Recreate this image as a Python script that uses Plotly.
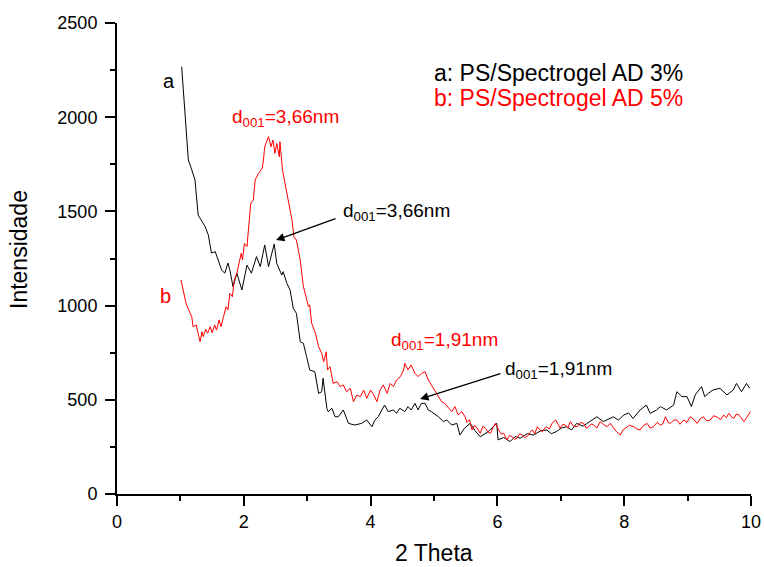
import plotly.graph_objects as go

# ---- data ----
theta_a = [1.02, 1.07, 1.125, 1.18, 1.23, 1.28, 1.33, 1.39, 1.44, 1.49, 1.55, 1.60, 1.65, 1.70, 1.75, 1.78,
           1.83, 1.89, 1.97, 2.05, 2.12, 2.20, 2.26, 2.33, 2.39, 2.48, 2.52, 2.60, 2.62, 2.68, 2.73, 2.78,
           2.83, 2.89, 2.94, 2.99, 3.04, 3.12, 3.18, 3.23, 3.25, 3.31, 3.33, 3.39, 3.44, 3.49, 3.57, 3.65,
           3.75, 3.86, 3.94, 4.02, 4.07, 4.12, 4.22, 4.28, 4.36, 4.41, 4.46, 4.54, 4.59, 4.64, 4.70, 4.75,
           4.80, 4.86, 4.91, 4.96, 5.07, 5.15, 5.20, 5.28, 5.36, 5.41, 5.48, 5.57, 5.65, 5.73, 5.85, 5.99,
           6.01, 6.10, 6.20, 6.28, 6.36, 6.47, 6.57, 6.68, 6.78, 6.85, 6.93, 7.01, 7.09, 7.17, 7.25, 7.35,
           7.46, 7.57, 7.67, 7.75, 7.83, 7.91, 7.99, 8.07, 8.14, 8.25, 8.35, 8.41, 8.51, 8.57, 8.67, 8.78,
           8.83, 8.91, 8.99, 9.06, 9.12, 9.22, 9.27, 9.33, 9.40, 9.51, 9.62, 9.72, 9.77, 9.85, 9.93, 9.98]
int_a = [2268, 2050, 1773, 1720, 1667, 1481, 1450, 1419, 1375, 1279, 1286, 1242, 1189, 1172, 1226, 1189,
         1100, 1172, 1083, 1215, 1172, 1260, 1207, 1322, 1207, 1327, 1224, 1162, 1180, 1118, 1083, 986,
         959, 808, 800, 729, 658, 649, 534, 543, 614, 455, 437, 455, 410, 410, 446, 375,
         366, 375, 393, 357, 393, 410, 472, 437, 446, 428, 455, 437, 464, 446, 481, 446,
         481, 481, 446, 437, 410, 384, 393, 366, 375, 313, 349, 375, 335, 304, 330, 375,
         287, 300, 278, 305, 296, 320, 313, 335, 340, 320, 331, 350, 357, 340, 375, 360,
         384, 410, 384, 395, 410, 392, 419, 430, 401, 446, 472, 428, 446, 464, 446, 472,
         543, 517, 517, 464, 526, 570, 517, 535, 552, 561, 526, 552, 587, 543, 587, 561]

theta_b = [1.01, 1.05, 1.09, 1.13, 1.18, 1.20, 1.25, 1.28, 1.31, 1.34, 1.36, 1.40, 1.43, 1.47, 1.50, 1.54,
           1.57, 1.61, 1.64, 1.68, 1.72, 1.75, 1.78, 1.82, 1.85, 1.89, 1.93, 1.96, 1.98, 2.01, 2.05, 2.08,
           2.11, 2.15, 2.18, 2.23, 2.29, 2.31, 2.33, 2.39, 2.43, 2.46, 2.49, 2.52, 2.56, 2.57, 2.61, 2.65,
           2.70, 2.76, 2.79, 2.83, 2.89, 2.94, 2.98, 3.02, 3.04, 3.07, 3.13, 3.18, 3.23, 3.26, 3.30, 3.32,
           3.36, 3.41, 3.47, 3.52, 3.57, 3.62, 3.68, 3.73, 3.78, 3.84, 3.89, 3.94, 4.00, 4.05, 4.10, 4.15,
           4.20, 4.26, 4.31, 4.36, 4.41, 4.47, 4.52, 4.54, 4.59, 4.64, 4.70, 4.75, 4.80, 4.86, 4.91, 4.96,
           5.01, 5.07, 5.12, 5.17, 5.23, 5.28, 5.33, 5.38, 5.44, 5.49, 5.52, 5.56, 5.60, 5.64, 5.68, 5.73,
           5.77, 5.81, 5.85, 5.89, 5.93, 5.97, 6.02, 6.06, 6.10, 6.15, 6.19, 6.23, 6.27, 6.31, 6.35, 6.39,
           6.43, 6.47, 6.51, 6.55, 6.59, 6.63, 6.67, 6.71, 6.75, 6.78, 6.82, 6.86, 6.92, 6.99, 7.03, 7.07,
           7.11, 7.15, 7.20, 7.26, 7.31, 7.36, 7.40, 7.44, 7.48, 7.52, 7.57, 7.62, 7.67, 7.73, 7.78, 7.83,
           7.88, 7.94, 7.98, 8.02, 8.08, 8.15, 8.20, 8.25, 8.30, 8.36, 8.41, 8.46, 8.52, 8.57, 8.61, 8.65,
           8.69, 8.73, 8.78, 8.83, 8.88, 8.94, 8.99, 9.04, 9.10, 9.15, 9.20, 9.25, 9.30, 9.36, 9.41, 9.46,
           9.52, 9.57, 9.61, 9.65, 9.69, 9.73, 9.77, 9.81, 9.85, 9.89, 9.94, 9.99]
int_b = [1136, 1065, 1010, 977, 941, 888, 897, 853, 808, 861, 835, 874, 853, 888, 856, 897,
         870, 924, 888, 941, 994, 977, 1065, 1047, 1136, 1172, 1242, 1278, 1242, 1330, 1313, 1455,
         1543, 1561, 1667, 1702, 1728, 1773, 1843, 1897, 1843, 1879, 1808, 1861, 1790, 1870, 1720, 1649,
         1560, 1454, 1366, 1348, 1242, 1101, 1048, 995, 1004, 906, 853, 782, 746, 702, 755, 658,
         676, 587, 596, 570, 579, 543, 561, 490, 525, 517, 552, 508, 552, 525, 490, 552,
         579, 534, 587, 570, 605, 623, 658, 693, 658, 685, 640, 623, 640, 649, 605, 579,
         552, 517, 490, 481, 455, 437, 464, 420, 437, 410, 380, 395, 340, 365, 349, 322,
         360, 349, 330, 322, 352, 375, 340, 318, 322, 287, 310, 305, 290, 296, 320, 313,
         300, 305, 325, 340, 320, 357, 340, 331, 350, 357, 345, 375, 393, 349, 370, 366,
         350, 384, 360, 357, 380, 375, 350, 357, 372, 366, 350, 384, 370, 357, 375, 349,
         330, 313, 340, 349, 365, 357, 345, 340, 362, 375, 350, 357, 380, 366, 372, 410,
         380, 375, 392, 393, 370, 393, 380, 410, 395, 375, 400, 410, 388, 393, 415, 410,
         395, 419, 405, 428, 410, 401, 425, 419, 400, 384, 410, 437]

x_ticks = [0, 2, 4, 6, 8, 10]
y_ticks = [0, 500, 1000, 1500, 2000, 2500]

FONT = "Liberation Sans, Arial, sans-serif"

W, H = 764, 567
PX0, PX1, PY0, PY1 = 117, 751, 23, 494   # plot area in page pixels
L, T = PX0, PY0
R, B = W - PX1, H - PY1
PW, PH = PX1 - PX0, PY1 - PY0

fig = go.Figure()
fig.add_trace(go.Scatter(x=theta_a, y=int_a, mode="lines", line=dict(color="black", width=1), name="a"))
fig.add_trace(go.Scatter(x=theta_b, y=int_b, mode="lines", line=dict(color="#ff0000", width=1), name="b"))

axis_common = dict(
    showline=True, linecolor="black", linewidth=2, ticks="outside", ticklen=10, tickwidth=2,
    tickcolor="black", showgrid=False, zeroline=False, mirror=False, automargin=False,
    tickfont=dict(family=FONT, size=18, color="black"),
)
fig.update_xaxes(range=[0, 10], tickvals=x_ticks, ticktext=[str(v) for v in x_ticks],
                 minor=dict(ticks="outside", ticklen=5, tickwidth=2, tickcolor="black", dtick=1, tick0=0),
                 **axis_common)
fig.update_yaxes(range=[0, 2500], tickvals=y_ticks, ticktext=[str(v) for v in y_ticks],
                 ticklabelstandoff=4,
                 minor=dict(ticks="outside", ticklen=5, tickwidth=2, tickcolor="black", dtick=250, tick0=0),
                 **axis_common)

ann = []
def txt(x, y, text, color, size, xanchor="left", yanchor="bottom"):
    ann.append(dict(x=x, y=y, xref="x", yref="y", text=text, showarrow=False,
                    font=dict(family=FONT, size=size, color=color), xanchor=xanchor, yanchor=yanchor))

txt(0.82, 2192, "a", "black", 20, xanchor="center", yanchor="middle")
txt(0.77, 1051, "b", "#ff0000", 20, xanchor="center", yanchor="middle")
txt(4.97, 2235, "a: PS/Spectrogel AD 3%", "black", 23, yanchor="middle")
txt(4.97, 2100, "b: PS/Spectrogel AD 5%", "#ff0000", 23, yanchor="middle")
txt(1.78, 1920, "d<sub>001</sub>=3,66nm", "#ff0000", 19)
txt(3.54, 1425, "d<sub>001</sub>=3,66nm", "black", 19)
txt(4.29, 737, "d<sub>001</sub>=1,91nm", "#ff0000", 19)
txt(6.09, 584, "d<sub>001</sub>=1,91nm", "black", 19)

for hx, hy, tx, ty in [(2.508, 1348, 3.47, 1465), (4.78, 504, 6.07, 642)]:
    ann.append(dict(x=hx, y=hy, ax=tx, ay=ty, xref="x", yref="y", axref="x", ayref="y", text="",
                    showarrow=True, arrowhead=2, arrowsize=1.3, arrowwidth=1.3, arrowcolor="black"))

# axis titles (paper coords relative to plot area)
ann.append(dict(x=(434 - PX0) / PW, y=(PY1 - 553) / PH, xref="paper", yref="paper", text="2 Theta",
                showarrow=False, font=dict(family=FONT, size=23, color="black"),
                xanchor="center", yanchor="middle"))
ann.append(dict(x=(19 - PX0) / PW, y=(PY1 - 250) / PH, xref="paper", yref="paper", text="Intensidade",
                showarrow=False, font=dict(family=FONT, size=23, color="black"),
                xanchor="center", yanchor="middle", textangle=-90))

fig.update_layout(
    width=W, height=H,
    margin=dict(l=L, r=R, t=T, b=B, autoexpand=False),
    plot_bgcolor="white", paper_bgcolor="white",
    showlegend=False,
    annotations=ann,
)

fig.write_html("out.html", config={"displayModeBar": False},
               post_script="document.body.style.margin='0px';document.body.style.overflow='hidden';")
